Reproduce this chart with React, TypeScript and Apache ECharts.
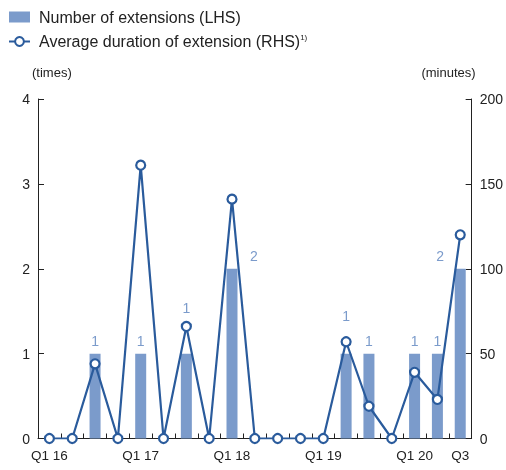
import React, { useEffect, useRef } from "react";
import * as echarts from "echarts";

const categories = [
  "Q1 16", "Q2 16", "Q3 16", "Q4 16",
  "Q1 17", "Q2 17", "Q3 17", "Q4 17",
  "Q1 18", "Q2 18", "Q3 18", "Q4 18",
  "Q1 19", "Q2 19", "Q3 19", "Q4 19",
  "Q1 20", "Q2 20", "Q3 20",
];
const tickLabels = ["Q1 16", "", "", "", "Q1 17", "", "", "", "Q1 18", "", "", "", "Q1 19", "", "", "", "Q1 20", "", "Q3"];
const extensions = [0, 0, 1, 0, 1, 0, 1, 0, 2, 0, 0, 0, 0, 1, 1, 0, 1, 1, 2];
const durations = [0, 0, 44, 0, 161, 0, 66, 0, 141, 0, 0, 0, 0, 57, 19, 0, 39, 23, 120];

const FONT = "Liberation Sans";
const BAR = "#7b9bcb";
const LINE = "#2a5b9c";
const TXT = "#222222";

export default function App() {
  const ref = useRef<HTMLDivElement>(null);
  useEffect(() => {
    if (!ref.current) return;
    const chart = echarts.init(ref.current, undefined, { renderer: "svg" });
    const labelOffset = (i: number): [number, number] => {
      if (i === 8) return [22, 0];
      if (i === 18) return [-20, 0];
      if (i === 6) return [0, -33];
      if (i === 13) return [0, -25];
      return [0, 0];
    };
    chart.setOption({
      animation: false,
      textStyle: { fontFamily: FONT },
      legend: {
        orient: "vertical",
        left: 8,
        top: 9,
        padding: 0,
        itemGap: 8,
        itemWidth: 21,
        itemHeight: 11,
        textStyle: {
          fontFamily: FONT,
          fontSize: 16,
          color: TXT,
          padding: [0, 0, 0, 4],
          rich: {
            sup: { fontSize: 8, verticalAlign: "top", padding: [0, 0, 9, 0], color: TXT, fontFamily: FONT },
          },
        },
        formatter: (name: string) =>
          name.startsWith("Average") ? name + "{sup|1)}" : name,
        data: [
          { name: "Number of extensions (LHS)", icon: "rect" },
          { name: "Average duration of extension (RHS)" },
        ],
      },
      grid: { left: 38, right: 34, top: 99, bottom: 31.5, containLabel: false },
      xAxis: {
        type: "category",
        data: categories,
        axisLine: { lineStyle: { color: TXT, width: 1 } },
        axisTick: { show: true, inside: true, length: 5, interval: 0, lineStyle: { color: TXT } },
        axisLabel: {
          interval: 0,
          color: TXT,
          fontSize: 13.5,
          margin: 10,
          formatter: (_v: string, i: number) => tickLabels[i],
        },
      },
      yAxis: [
        {
          type: "value",
          min: 0,
          max: 4,
          interval: 1,
          name: "(times)",
          nameLocation: "end",
          nameGap: 20,
          nameTextStyle: { color: TXT, fontSize: 13, align: "left", padding: [0, 0, 0, -6] },
          axisLine: { show: true, lineStyle: { color: TXT } },
          axisTick: { show: true, inside: true, length: 6, lineStyle: { color: TXT } },
          axisLabel: { color: TXT, fontSize: 14, margin: 8 },
          splitLine: { show: false },
        },
        {
          type: "value",
          min: 0,
          max: 200,
          interval: 50,
          name: "(minutes)",
          nameLocation: "end",
          nameGap: 20,
          nameTextStyle: { color: TXT, fontSize: 13, align: "right", padding: [0, -4, 0, 0] },
          axisLine: { show: true, lineStyle: { color: TXT } },
          axisTick: { show: true, inside: true, length: 6, lineStyle: { color: TXT } },
          axisLabel: { color: TXT, fontSize: 14, margin: 8 },
          splitLine: { show: false },
        },
      ],
      series: [
        {
          name: "Number of extensions (LHS)",
          type: "bar",
          yAxisIndex: 0,
          barWidth: 11,
          itemStyle: { color: BAR },
          data: extensions.map((v, i) => ({
            value: v,
            label: {
              show: v > 0,
              position: "top",
              offset: labelOffset(i),
              color: BAR,
              fontSize: 14,
              distance: 6,
            },
          })),
        },
        {
          name: "Average duration of extension (RHS)",
          type: "line",
          yAxisIndex: 1,
          data: durations,
          symbol: "circle",
          symbolSize: 9,
          lineStyle: { color: LINE, width: 2.2 },
          itemStyle: { color: "#ffffff", borderColor: LINE, borderWidth: 2.2 },
          z: 3,
        },
      ],
    });
    return () => chart.dispose();
  }, []);
  return <div ref={ref} style={{ position: "fixed", left: 0, top: 0, width: 506, height: 470 }} />;
}
